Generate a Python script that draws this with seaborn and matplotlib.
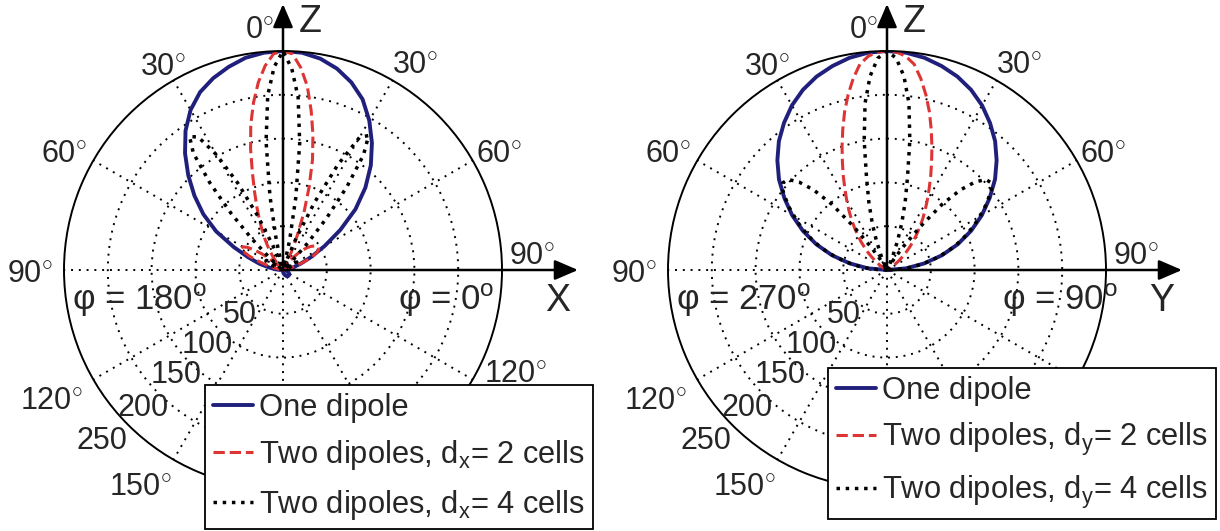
import numpy as np
import matplotlib
matplotlib.use("Agg")
import matplotlib.pyplot as plt
from matplotlib.lines import Line2D
import seaborn as sns

# ---------------------------------------------------------------------------
# Radiation patterns, polar angle theta measured from +Z (degrees)
# ---------------------------------------------------------------------------
theta_coarse = np.arange(0, 95, 5)          # 0 .. 90, step 5
theta_fine = np.arange(0, 92.5, 2.5)        # 0 .. 90, step 2.5
theta_back = np.arange(100, 190, 10)        # 100 .. 180

# XZ plane: phi = 0 (right half) and phi = 180 (left half)
one_xz_phi0 = [250, 249, 245, 238, 228, 215, 197, 177, 156, 133,
               108, 80, 55, 36, 22, 13, 7, 3, 2]
one_xz_phi180 = [250, 249, 246, 240, 233, 224, 211, 194, 174, 153,
                 132, 111, 88, 62, 42, 28, 16, 8, 3]
one_xz_back = [4, 6, 8, 9, 9, 8, 6, 4, 2]

two2_xz_phi0 = [250, 247, 232, 212, 185, 158, 130, 99, 70, 42,
                22, 10, 4, 3, 8, 14, 20, 27, 33, 38,
                42, 45, 47, 48, 47, 44, 38, 30, 22, 14,
                8, 4, 2, 1, 0, 0, 0]
two2_xz_phi180 = [250, 247, 234, 216, 194, 170, 143, 116, 95, 78,
                  64, 52, 42, 33, 25, 18, 12, 8, 6, 10,
                  20, 30, 40, 48, 53, 54, 50, 42, 32, 22,
                  14, 8, 4, 2, 1, 0, 0]

two4_xz_phi0 = [250, 230, 198, 146, 84, 35, 6, 2, 12, 40,
                85, 135, 175, 182, 160, 120, 78, 42, 16, 4,
                2, 6, 12, 16, 18, 16, 12, 8, 4, 2,
                1, 0, 0, 0, 0, 0, 0]
two4_xz_phi180 = [250, 232, 200, 148, 86, 36, 7, 2, 8, 30,
                  68, 112, 152, 180, 186, 168, 130, 88, 50, 22,
                  6, 3, 10, 18, 22, 22, 18, 12, 7, 3,
                  1, 0, 0, 0, 0, 0, 0]

# YZ plane: symmetric about Z (phi = 90 / phi = 270)
one_yz = [250, 249, 246, 241, 235, 227, 217, 205, 192, 177,
          161, 143, 125, 106, 86, 65, 43, 22, 0]
two2_yz = [250, 249, 245, 237, 222, 205, 187, 168, 150, 133,
           118, 104, 92, 81, 71, 61, 52, 44, 36, 29,
           22, 16, 11, 7, 4, 2, 1, 0, 0, 0,
           0, 0, 0, 0, 0, 0, 0]
two4_yz = [250, 242, 222, 192, 150, 108, 80, 56, 35, 17,
           5, 1, 2, 15, 33, 62, 98, 124, 142, 153,
           155, 150, 141, 132, 122, 113, 103, 94, 84, 74,
           63, 53, 42, 32, 21, 11, 0]

radial_ticks = [50, 100, 150, 200, 250]

labels_xz = ["One dipole",
             r"Two dipoles, d$_{\mathrm{x}}$= 2 cells",
             r"Two dipoles, d$_{\mathrm{x}}$= 4 cells"]
labels_yz = ["One dipole",
             r"Two dipoles, d$_{\mathrm{y}}$= 2 cells",
             r"Two dipoles, d$_{\mathrm{y}}$= 4 cells"]

# ---------------------------------------------------------------------------
sns.set_style("white")
plt.rcParams["font.family"] = ["Liberation Sans", "DejaVu Sans"]
plt.rcParams["mathtext.fontset"] = "custom"
plt.rcParams["mathtext.rm"] = "Liberation Sans"
plt.rcParams["mathtext.it"] = "Liberation Sans:italic"

W, H = 1220, 531
fig = plt.figure(figsize=(W / 100, H / 100), dpi=100)
fig.patch.set_facecolor("white")

R = 219
centers = [(283, 270), (887, 270)]

BLUE = "#20207c"
RED = "#dd3434"
LW_ONE, LW_TWO2, LW_TWO4 = 2.8, 2.2, 2.5


def frac(x, y):
    return x / W, 1 - y / H


def full_curve(theta, left, right):
    th = np.concatenate([-np.asarray(theta)[::-1], np.asarray(theta)[1:]])
    r = np.concatenate([np.asarray(left)[::-1], np.asarray(right)[1:]])
    return np.deg2rad(th), r


def draw_series(ax, th, r, color, ls, lw, label):
    sns.lineplot(x=th, y=r, ax=ax, sort=False, estimator=None,
                 color=color, linestyle=ls, linewidth=lw, label=label)


# label centre offsets from the pole, pixels (x right, y down)
angle_pos_common = [
    ("0", (-24, -240)),
    ("30", (-120, -203)), ("30", (132, -205)),
    ("60", (-219, -116)), ("60", (216, -116)),
    ("90", (-253, 4)), ("90", (249, -14)),
    ("120", (-232, 131)),
    ("150", (-143, 217)),
]
angle_pos_extra = [("120", (232, 104))]   # only clear of the legend on the left panel
radial_pos = {50: (-43, 45), 100: (-76, 75), 150: (-107, 105),
              200: (-140, 138), 250: (-181, 171)}

panels = [
    dict(one=(theta_coarse, one_xz_phi180, one_xz_phi0),
         two2=(theta_fine, two2_xz_phi180, two2_xz_phi0),
         two4=(theta_fine, two4_xz_phi180, two4_xz_phi0),
         back=True, labels=labels_xz, axis="X",
         phi_left="φ = 180$^{\\mathrm{o}}$", phi_right="φ = 0$^{\\mathrm{o}}$",
         legend_tl=(205, 385), angles=angle_pos_common + angle_pos_extra),
    dict(one=(theta_coarse, one_yz, one_yz),
         two2=(theta_fine, two2_yz, two2_yz),
         two4=(theta_fine, two4_yz, two4_yz),
         back=False, labels=labels_yz, axis="Y",
         phi_left="φ = 270$^{\\mathrm{o}}$", phi_right="φ = 90$^{\\mathrm{o}}$",
         legend_tl=(828, 368), angles=angle_pos_common),
]

for (cx, cy), p in zip(centers, panels):
    ax = fig.add_axes([(cx - R) / W, (H - cy - R) / H, 2 * R / W, 2 * R / H],
                      projection="polar")
    ax.set_theta_zero_location("N")
    ax.set_theta_direction(-1)
    ax.set_ylim(0, 250)
    ax.set_yticks(radial_ticks[:-1])
    ax.set_yticklabels([])
    ax.set_xticks(np.deg2rad(np.arange(0, 360, 30)))
    ax.set_xticklabels([])
    ax.grid(True, color="black", linestyle=(0, (1, 3)), linewidth=1.4)
    ax.spines["polar"].set_linewidth(1.4)
    ax.spines["polar"].set_color("black")
    ax.set_axisbelow(True)

    th, r = full_curve(*p["one"])
    if p["back"]:
        th = np.concatenate([th, np.deg2rad(theta_back)])
        r = np.concatenate([r, one_xz_back])
    draw_series(ax, th, r, BLUE, "-", LW_ONE, p["labels"][0])
    th, r = full_curve(*p["two2"])
    draw_series(ax, th, r, RED, "--", LW_TWO2, p["labels"][1])
    th, r = full_curve(*p["two4"])
    draw_series(ax, th, r, "black", ":", LW_TWO4, p["labels"][2])
    ax.set_xlabel("")
    ax.set_ylabel("")

    tf = fig.transFigure
    # angle labels
    for txt, (dx, dy) in p["angles"]:
        ax.text(*frac(cx + dx, cy + dy), txt + r"$^{\circ}$", transform=tf,
                ha="center", va="center", fontsize=22, clip_on=False, zorder=3)
    # radial labels
    for val, (dx, dy) in radial_pos.items():
        ax.text(*frac(cx + dx, cy + dy), str(val), transform=tf,
                ha="center", va="center", fontsize=22, clip_on=False, zorder=3)
    # azimuth annotations
    ax.text(*frac(cx - 211, cy + 30), p["phi_left"], transform=tf,
            ha="left", va="center", fontsize=25, clip_on=False, zorder=3)
    ax.text(*frac(cx + 115, cy + 30), p["phi_right"], transform=tf,
            ha="left", va="center", fontsize=25, clip_on=False, zorder=3)

    # coordinate axes
    arrow = dict(arrowstyle="-|>,head_length=0.65,head_width=0.28",
                 color="black", lw=1.8, mutation_scale=22,
                 shrinkA=0, shrinkB=0)
    ax.annotate("", xy=frac(cx, 4), xytext=frac(cx, cy),
                xycoords=tf, textcoords=tf, arrowprops=arrow,
                annotation_clip=False)
    ax.annotate("", xy=frac(cx + 295, cy), xytext=frac(cx, cy),
                xycoords=tf, textcoords=tf, arrowprops=arrow,
                annotation_clip=False)
    ax.text(*frac(cx + 27, 22), "Z", transform=tf, ha="center", va="center",
            fontsize=27, clip_on=False)
    ax.text(*frac(cx + 275, cy + 31), p["axis"], transform=tf,
            ha="center", va="center", fontsize=27, clip_on=False)

    handles = [Line2D([], [], color=BLUE, lw=LW_ONE, ls="-"),
               Line2D([], [], color=RED, lw=LW_TWO2, ls="--"),
               Line2D([], [], color="black", lw=LW_TWO4, ls=":")]
    leg = ax.legend(handles, p["labels"], loc="upper left",
                    bbox_to_anchor=frac(*p["legend_tl"]), bbox_transform=tf,
                    fontsize=22.2, frameon=True, fancybox=False,
                    edgecolor="black", framealpha=1, borderpad=0.25,
                    labelspacing=0.5, handlelength=1.3, handletextpad=0.2,
                    borderaxespad=0)
    leg.get_frame().set_linewidth(1.3)
    leg.set_zorder(10)

fig.savefig("out.png", dpi=100, facecolor="white")
